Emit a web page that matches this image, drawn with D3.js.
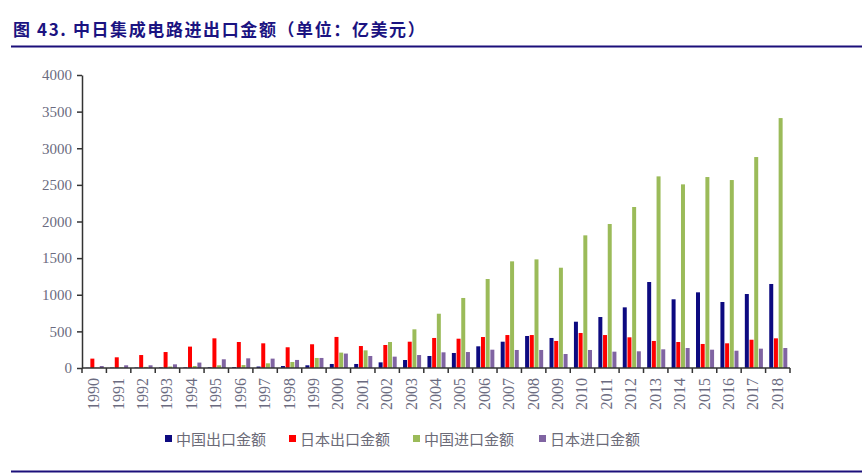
<!DOCTYPE html>
<html><head><meta charset="utf-8">
<script src="https://cdn.jsdelivr.net/npm/d3@7"></script>
<style>body{margin:0;background:#fff}svg{display:block}</style>
</head><body>
<svg id="c" width="862" height="474"></svg>
<script>
const years = ["1990","1991","1992","1993","1994","1995","1996","1997","1998","1999","2000","2001","2002","2003","2004","2005","2006","2007","2008","2009","2010","2011","2012","2013","2014","2015","2016","2017","2018"];
const seriesNames = ["中国出口金额","日本出口金额","中国进口金额","日本进口金额"];
const chinaExport = [3,5,6,8,8,10,12,20,27,37,55,55,77,109,164,205,296,359,437,410,632,696,828,1174,938,1033,901,1010,1147];
const japanExport = [128,146,177,218,292,405,355,337,283,324,424,300,314,359,410,400,423,450,450,369,478,450,419,369,355,328,337,386,405];
const chinaImport = [5,8,15,20,27,37,40,64,82,137,210,241,355,528,741,956,1215,1456,1483,1369,1811,1966,2198,2616,2507,2607,2566,2880,3412];
const japanImport = [27,37,37,50,74,119,132,128,110,137,197,164,155,177,214,218,250,246,246,191,246,223,228,255,273,250,236,264,273];
const yTicks = [0,500,1000,1500,2000,2500,3000,3500,4000];
const colors = ["#0d0a80","#ff0000","#9bbb59","#8064a2"];
const seriesData = [chinaExport, japanExport, chinaImport, japanImport];

const svg = d3.select("#c");
const title = "图 43. 中日集成电路进出口金额（单位：亿美元）";

svg.append("text").attr("x",13).attr("y",36)
  .attr("font-family","'Noto Sans CJK SC', sans-serif").attr("font-weight","bold")
  .attr("font-size",17).attr("letter-spacing",1.6).attr("fill","#1b1381").text(title);
svg.append("line").attr("x1",11).attr("x2",862).attr("y1",46.5).attr("y2",46.5)
  .attr("stroke","#1b0f7a").attr("stroke-width",2);
svg.append("line").attr("x1",11).attr("x2",862).attr("y1",471.5).attr("y2",471.5)
  .attr("stroke","#1b0f7a").attr("stroke-width",2);

const x0 = d3.scaleBand().domain(years).range([82,790]).padding(0);
const bw = x0.bandwidth();
const x1 = d3.scaleBand().domain(seriesNames).range([bw*0.15, bw*0.89]).paddingInner(0.15);
const y = d3.scaleLinear().domain([0,4000]).range([368,75]);

const g = svg.append("g");
years.forEach((yr,i)=>{
  seriesNames.forEach((s,j)=>{
    const v = seriesData[j][i];
    g.append("rect").attr("x",x0(yr)+x1(s)).attr("width",x1.bandwidth())
      .attr("y",y(v)).attr("height",y(0)-y(v)).attr("fill",colors[j]);
  });
});

// y axis
const yAxis = d3.axisLeft(y).tickValues(yTicks).tickFormat(d3.format("d")).tickSize(5).tickSizeOuter(0).tickPadding(5);
const ya = svg.append("g").attr("transform","translate(82,0)").call(yAxis);
ya.select(".domain").attr("stroke","#333").attr("stroke-width",1.5);
ya.selectAll(".tick line").attr("stroke","#333").attr("stroke-width",1.5);
ya.selectAll(".tick text").attr("font-family","'Liberation Serif', serif").attr("font-size",15).attr("fill","#6b6b80");

// x axis
const xa = svg.append("g").attr("transform","translate(0,368)");
xa.append("line").attr("x1",82).attr("x2",790).attr("stroke","#333").attr("stroke-width",1.5);
const bounds = years.map(d=>x0(d)).concat([790]);
xa.selectAll("line.tk").data(bounds).join("line").attr("class","tk")
  .attr("x1",d=>d).attr("x2",d=>d).attr("y1",0).attr("y2",5).attr("stroke","#333").attr("stroke-width",1.5);
xa.selectAll("text.yr").data(years).join("text").attr("class","yr")
  .attr("transform",d=>`translate(${x0(d)+bw/2+5},10) rotate(-90)`)
  .attr("text-anchor","end").attr("font-family","'Liberation Serif', serif")
  .attr("font-size",16).attr("fill","#6b6b80").text(d=>d);

// legend
const legX = [165,289,413,539];
const leg = svg.append("g");
seriesNames.forEach((s,j)=>{
  leg.append("rect").attr("x",legX[j]).attr("y",435).attr("width",7).attr("height",7).attr("fill",colors[j]);
  leg.append("text").attr("x",legX[j]+11).attr("y",444.5)
    .attr("font-family","'Noto Sans CJK SC', sans-serif").attr("font-size",15)
    .attr("fill","#6b6b78").text(s);
});
</script>
</body></html>
